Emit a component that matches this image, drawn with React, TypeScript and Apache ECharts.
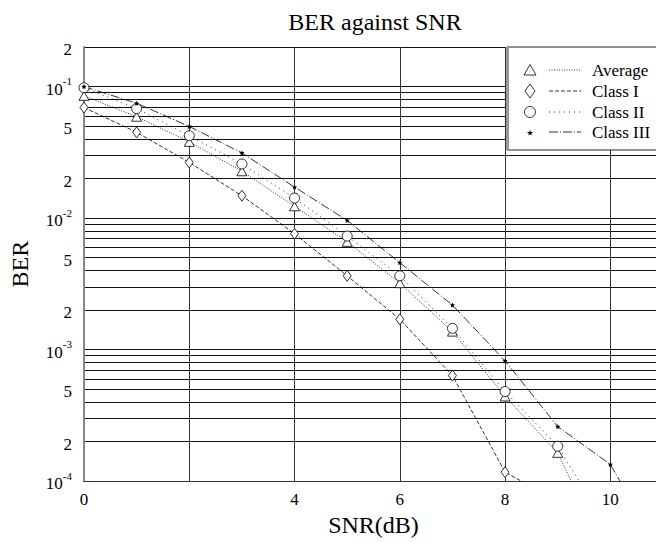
import React, { useEffect, useRef } from "react";
import * as echarts from "echarts";

const snr = [0, 1, 2, 3, 4, 5, 6, 7, 8, 9, 10, 11];
const average = [0.085, 0.059, 0.038, 0.0227, 0.0123, 0.0066, 0.0032, 0.00137, 0.00044, 0.000164, 0.000024];
const classI = [0.0693, 0.0449, 0.0265, 0.0148, 0.0076, 0.00364, 0.0017, 0.000635, 0.000117, 0.00007];
const classII = [0.098, 0.068, 0.0423, 0.0258, 0.0142, 0.0073, 0.00364, 0.00145, 0.00048, 0.000184, 0.000041];
const classIII = [0.1, 0.0747, 0.0498, 0.0313, 0.0172, 0.0096, 0.00458, 0.00218, 0.00082, 0.00026, 0.000134, 0.000027];

const yLabelValues = [1e-4, 2e-4, 5e-4, 1e-3, 2e-3, 5e-3, 0.01, 0.02, 0.05, 0.1, 0.2];
const yGridValues = [
  1e-4, 2e-4, 3e-4, 4e-4, 5e-4, 6e-4, 7e-4, 8e-4, 9e-4,
  1e-3, 2e-3, 3e-3, 4e-3, 5e-3, 6e-3, 7e-3, 8e-3, 9e-3,
  0.01, 0.02, 0.03, 0.04, 0.05, 0.06, 0.07, 0.08, 0.09,
  0.1, 0.2,
];
const legendNames = ["Average", "Class I", "Class II", "Class III"];

const FONT = "'Liberation Serif', 'DejaVu Serif', serif";
const STAR = "path://M0,-10 L2.9,-4 9.5,-3.1 4.7,1.5 5.9,8.1 0,5 -5.9,8.1 -4.7,1.5 -9.5,-3.1 -2.9,-4 Z";

function pairs(vals: number[]) {
  return vals.map((v, i) => [snr[i], v]);
}

function yFmt(v: number) {
  const e = Math.floor(Math.log10(v) + 1e-9);
  const m = Math.round(v / Math.pow(10, e));
  if (m === 1) return `{b|10}{s|${e}}`;
  return `{b|${m}}`;
}

export default function App() {
  const ref = useRef<HTMLDivElement>(null);
  useEffect(() => {
    if (!ref.current) return;
    const chart = echarts.init(ref.current, undefined, { renderer: "svg" });
    const lx = 530;
    const rows = [70, 91, 112, 132];
    const lineStyles: any[] = [[1, 1.5], [4, 2], [1, 4], [9, 2, 1, 2]];
    const legendEls: any[] = [
      { type: "rect", shape: { x: 507, y: 47, width: 170, height: 103 }, style: { fill: "#fff", stroke: "#222", lineWidth: 1 }, z: 100 },
      { type: "line", shape: { x1: 507.5, y1: 47, x2: 507.5, y2: 150 }, style: { stroke: "#999", lineWidth: 3 }, z: 101 },
      { type: "polygon", shape: { points: [[lx, rows[0] - 5.5], [lx - 6, rows[0] + 5], [lx + 6, rows[0] + 5]] }, style: { fill: "none", stroke: "#000", lineWidth: 0.8 }, z: 101 },
      { type: "polygon", shape: { points: [[lx, rows[1] - 7], [lx + 5, rows[1]], [lx, rows[1] + 7], [lx - 5, rows[1]]] }, style: { fill: "none", stroke: "#000", lineWidth: 0.8 }, z: 101 },
      { type: "circle", shape: { cx: lx, cy: rows[2], r: 5.5 }, style: { fill: "none", stroke: "#000", lineWidth: 0.8 }, z: 101 },
      { type: "text", x: lx, y: rows[3], style: { text: "⋆", font: `16px ${FONT}`, fill: "#000", align: "center", verticalAlign: "middle" }, z: 101 },
    ];
    rows.forEach((y, i) => {
      legendEls.push({ type: "line", shape: { x1: 549, y1: y, x2: 581, y2: y }, style: { stroke: "#000", lineWidth: 0.8, lineDash: lineStyles[i] }, z: 101 });
      legendEls.push({ type: "text", x: 592, y, style: { text: legendNames[i], font: `17px ${FONT}`, fill: "#000", verticalAlign: "middle" }, z: 101 });
    });

    const mk = (name: string, vals: number[], symbol: string, size: any, dash: any, fill: string) => ({
      name,
      type: "line",
      data: pairs(vals),
      symbol,
      symbolSize: size,
      clip: true,
      lineStyle: { color: "#000", width: 0.8, type: dash },
      itemStyle: { color: fill, borderColor: "#000", borderWidth: fill === "#000" ? 0 : 0.8 },
      z: 5,
    });

    chart.setOption({
      animation: false,
      backgroundColor: "#fff",
      title: {
        text: "BER against SNR",
        left: 370,
        textAlign: "center",
        top: 5,
        textStyle: { fontFamily: FONT, fontWeight: "normal", fontSize: 24, color: "#000" },
      },
      grid: { left: 82, top: 47, right: 0, bottom: 59 },
      xAxis: {
        type: "value",
        min: 0,
        max: 11,
        interval: 2,
        name: "SNR(dB)",
        nameLocation: "middle",
        nameGap: 29,
        nameTextStyle: { fontFamily: FONT, fontSize: 24, color: "#000" },
        axisLine: { show: true, lineStyle: { color: "#333", width: 1.2 } },
        axisTick: { show: false },
        axisLabel: {
          margin: 10,
          fontFamily: FONT,
          fontSize: 17,
          color: "#000",
          formatter: (v: number) => (v === 2 || v > 10 ? "" : String(v)),
        },
        splitLine: { show: true, lineStyle: { color: "#333", width: 1 } },
      },
      yAxis: {
        type: "log",
        logBase: 10,
        min: 1e-4,
        max: 0.2,
        name: "BER",
        nameLocation: "middle",
        nameGap: 52,
        nameTextStyle: { fontFamily: FONT, fontSize: 24, color: "#000" },
        axisLine: { show: true, lineStyle: { color: "#888", width: 2 } },
        axisTick: { show: false, customValues: yGridValues },
        axisLabel: {
          customValues: yLabelValues,
          margin: 12,
          color: "#000",
          formatter: yFmt,
          rich: {
            b: { fontFamily: FONT, fontSize: 17, color: "#000", lineHeight: 22, verticalAlign: "bottom" },
            s: { fontFamily: FONT, fontSize: 11, color: "#000", lineHeight: 22, verticalAlign: "top" },
          },
        },
        splitLine: { show: true, lineStyle: { color: "#111", width: 1 } },
      },
      series: [
        mk("Average", average, "triangle", [10, 9], [1, 1.5], "#fff"),
        mk("Class I", classI, "diamond", [8, 11], [4, 2], "#fff"),
        mk("Class II", classII, "circle", 10, [1, 4], "#fff"),
        mk("Class III", classIII, STAR, 5, [9, 2, 1, 2], "#000"),
      ],
      graphic: { elements: legendEls },
    });
    return () => chart.dispose();
  }, []);
  return (
    <div style={{ position: "absolute", left: 0, top: 0, width: 656, height: 542, overflow: "hidden" }}>
      <div ref={ref} style={{ width: 666, height: 542 }} />
    </div>
  );
}
